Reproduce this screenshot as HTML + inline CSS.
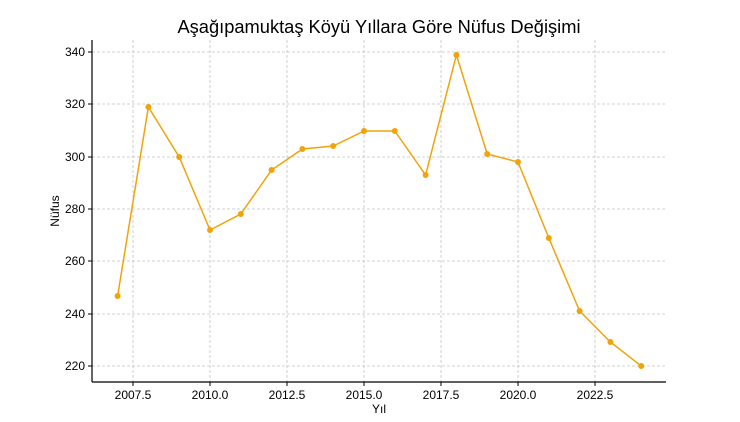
<!DOCTYPE html>
<html><head><meta charset="utf-8"><style>body{margin:0;background:#fff}</style></head><body>
<svg width="740" height="417" xmlns="http://www.w3.org/2000/svg" font-family="Liberation Sans, DejaVu Sans, sans-serif">
<rect width="740" height="417" fill="#fff"/>
<text x="379" y="33" font-size="18.3" text-anchor="middle" fill="#000">Aşağıpamuktaş Köyü Yıllara Göre Nüfus Değişimi</text>
<g stroke="#c4c4c4" stroke-dasharray="3,2" stroke-width="0.8">
<line x1="133" y1="40" x2="133" y2="382"/><line x1="210" y1="40" x2="210" y2="382"/><line x1="287" y1="40" x2="287" y2="382"/><line x1="364" y1="40" x2="364" y2="382"/><line x1="441" y1="40" x2="441" y2="382"/><line x1="518" y1="40" x2="518" y2="382"/><line x1="595" y1="40" x2="595" y2="382"/>
<line x1="92" y1="366" x2="666" y2="366"/><line x1="92" y1="314" x2="666" y2="314"/><line x1="92" y1="261" x2="666" y2="261"/><line x1="92" y1="209" x2="666" y2="209"/><line x1="92" y1="157" x2="666" y2="157"/><line x1="92" y1="104" x2="666" y2="104"/><line x1="92" y1="52" x2="666" y2="52"/>
</g>
<g stroke="#000" stroke-width="1.2"><line x1="92" y1="382" x2="666" y2="382"/><line x1="92" y1="40" x2="92" y2="382"/></g>
<g stroke="#000" stroke-width="1">
<line x1="133" y1="382" x2="133" y2="386"/><line x1="210" y1="382" x2="210" y2="386"/><line x1="287" y1="382" x2="287" y2="386"/><line x1="364" y1="382" x2="364" y2="386"/><line x1="441" y1="382" x2="441" y2="386"/><line x1="518" y1="382" x2="518" y2="386"/><line x1="595" y1="382" x2="595" y2="386"/>
<line x1="88" y1="366" x2="92" y2="366"/><line x1="88" y1="314" x2="92" y2="314"/><line x1="88" y1="261" x2="92" y2="261"/><line x1="88" y1="209" x2="92" y2="209"/><line x1="88" y1="157" x2="92" y2="157"/><line x1="88" y1="104" x2="92" y2="104"/><line x1="88" y1="52" x2="92" y2="52"/>
</g>
<g font-size="12" fill="#000" text-anchor="middle">
<text x="133" y="399">2007.5</text><text x="210" y="399">2010.0</text><text x="287" y="399">2012.5</text><text x="364" y="399">2015.0</text><text x="441" y="399">2017.5</text><text x="518" y="399">2020.0</text><text x="595" y="399">2022.5</text>
<text x="379" y="413">Yıl</text>
</g>
<g font-size="12" fill="#000" text-anchor="end">
<text x="85" y="370">220</text><text x="85" y="318">240</text><text x="85" y="265">260</text><text x="85" y="213">280</text><text x="85" y="161">300</text><text x="85" y="108">320</text><text x="85" y="56">340</text>
</g>
<text x="59" y="211" font-size="12" text-anchor="middle" transform="rotate(-90 59 211)">Nüfus</text>
<polyline fill="none" stroke="#f0a30a" stroke-width="1.5" points="117.6,296 148.4,107 179.2,157 210,230 240.8,214 271.6,170 302.4,149 333.2,146 364,131 394.8,131 425.6,175 456.4,55 487.2,154 518,162 548.8,238 579.6,311 610.4,342 641.2,366"/>
<g fill="#f0a30a">
<circle cx="117.6" cy="296" r="3"/><circle cx="148.4" cy="107" r="3"/><circle cx="179.2" cy="157" r="3"/><circle cx="210" cy="230" r="3"/><circle cx="240.8" cy="214" r="3"/><circle cx="271.6" cy="170" r="3"/><circle cx="302.4" cy="149" r="3"/><circle cx="333.2" cy="146" r="3"/><circle cx="364" cy="131" r="3"/><circle cx="394.8" cy="131" r="3"/><circle cx="425.6" cy="175" r="3"/><circle cx="456.4" cy="55" r="3"/><circle cx="487.2" cy="154" r="3"/><circle cx="518" cy="162" r="3"/><circle cx="548.8" cy="238" r="3"/><circle cx="579.6" cy="311" r="3"/><circle cx="610.4" cy="342" r="3"/><circle cx="641.2" cy="366" r="3"/>
</g>
</svg>
</body></html>
